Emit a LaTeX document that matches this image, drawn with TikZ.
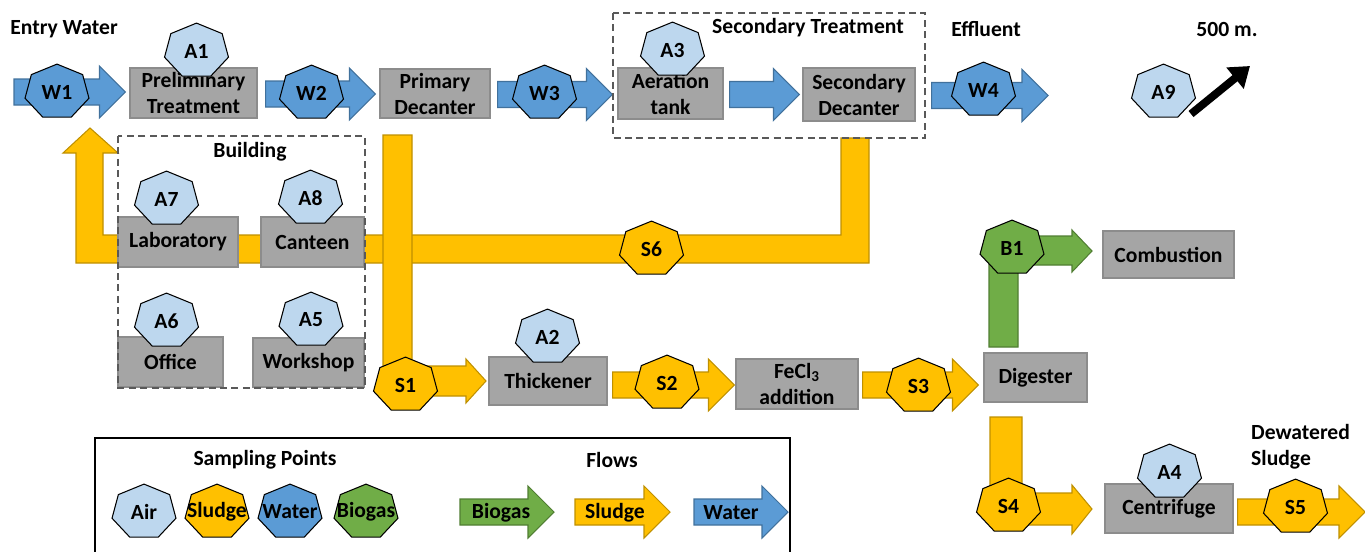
\documentclass[tikz,border=0pt]{standalone}
\usepackage{fontspec}
\setmainfont{Carlito}
\usetikzlibrary{calc, arrows.meta}

\definecolor{water}{HTML}{5B9BD5}
\definecolor{waterline}{HTML}{41719C}
\definecolor{air}{HTML}{BDD7EE}
\definecolor{sludge}{HTML}{FFC000}
\definecolor{sludgeline}{HTML}{BF9000}
\definecolor{biogas}{HTML}{70AD47}
\definecolor{biogasline}{HTML}{507E32}
\definecolor{unitgray}{HTML}{A5A5A5}
\definecolor{unitline}{HTML}{8C8C8C}
\definecolor{framegray}{HTML}{595959}

% block arrow from tail to tip (tip taken at the height of the tail)
\newcommand\flow[3]{%
  \filldraw[#1] ($(#2)+(0,-13)$) -- ($(#3 |- #2)+(-26,-13)$) -- ($(#3 |- #2)+(-26,-26)$)
    -- (#3 |- #2) -- ($(#3 |- #2)+(-26,26)$) -- ($(#3 |- #2)+(-26,13)$) -- ($(#2)+(0,13)$) -- cycle;}

% sampling point: name, position, style, text
\newcommand\samp[4]{%
  \filldraw[#3, shift={(#2)}] (0,-27.9) \foreach \k in {1,...,6}{ -- ({32.8*sin(\k*360/7)},{-27.9*cos(\k*360/7)}) } -- cycle;
  \node[samptext] (#1) at (#2) {#4};}

\begin{document}
\begin{tikzpicture}[
            x = 0.02cm, y = -0.02cm, % one unit = one pixel of the sketch
            font = \bfseries\fontsize{12.3}{14.8}\selectfont,
            wh/.style 2 args = {minimum width=#1*0.02cm, minimum height=#2*0.02cm},
            unit/.style = {rectangle, draw=unitline, fill=unitgray, align=center, inner sep=0pt, line width=0.6pt},
            samptext/.style = {inner sep=0pt},
            waterflow/.style = {fill=water, draw=waterline, line width=0.6pt},
            sludgeflow/.style = {fill=sludge, draw=sludgeline, line width=0.6pt},
            biogasflow/.style = {fill=biogas, draw=biogasline, line width=0.6pt},
            airpt/.style = {fill=air, draw=black, line width=0.6pt},
            waterpt/.style = {fill=water, draw=black, line width=0.6pt},
            sludgept/.style = {fill=sludge, draw=black, line width=0.6pt},
            biogaspt/.style = {fill=biogas, draw=black, line width=0.6pt},
            area/.style = {draw=framegray, dashed, dash pattern=on 4pt off 2.5pt, line width=0.8pt}
        ]
        \useasboundingbox (0,0) rectangle (1365,551);

        % sludge pipes
        \filldraw[sludgeflow] (76,263) -- (76,153) -- (63,153) -- (90,128) -- (118,153) -- (103,153)
            -- (103,235) -- (841,235) -- (841,138) -- (869,138) -- (869,263) -- cycle;
        \filldraw[sludgeflow] (383,135) -- (412,135) -- (412,366) -- (466,366) -- (466,359) -- (486,381)
            -- (466,403) -- (466,396) -- (383,396) -- cycle;
        \filldraw[sludgeflow] (990,417) -- (1022,417) -- (1022,493) -- (1072,493) -- (1072,485) -- (1092,509)
            -- (1072,534) -- (1072,525) -- (990,525) -- cycle;
        \filldraw[biogasflow] (989,347) -- (989,236) -- (1072,236) -- (1072,230) -- (1092,251)
            -- (1072,272) -- (1072,265) -- (1018,265) -- (1018,347) -- cycle;

        % units
        \node[unit, wh={127}{50}] (prelim) at (193.5,93) {Preliminary\\Treatment};
        \node[unit, wh={110}{49}] (primary) at (435,93.5) {Primary\\Decanter};
        \node[unit, wh={105}{51}] (aeration) at (670.5,93.5) {Aeration\\tank};
        \node[unit, wh={112}{53}] (secondary) at (859,94.5) {Secondary\\Decanter};
        \node[unit, wh={120}{50}] (lab) at (178,242) {Laboratory};
        \node[unit, wh={103}{50}] (canteen) at (312.5,242) {Canteen};
        \node[unit, wh={105}{50}] (office) at (170.5,362) {Office};
        \node[unit, wh={111}{49}] (workshop) at (308.5,362.5) {Workshop};
        \node[unit, wh={118}{48}] (thick) at (548,381) {Thickener};
        \node[unit, wh={122}{50}] (fecl) at (797,384) {FeCl\textsubscript{3}\\addition};
        \node[unit, wh={103}{49}] (digester) at (1035.5,377.5) {Digester};
        \node[unit, wh={131}{47}] (combustion) at (1168.5,254.5) {Combustion};
        \node[unit, wh={128}{49}] (centrifuge) at (1169,508.5) {Centrifuge};

        % straight flows
        \coordinate (w1a) at (14,92);
        \coordinate (w1b) at ($(prelim.west)+(-4,0)$);
        \coordinate (w2a) at ($(prelim.east)+(8,1)$);
        \coordinate (w2b) at ($(primary.west)+(-4,0)$);
        \coordinate (w3a) at ($(primary.east)+(7,1)$);
        \coordinate (w3b) at ($(aeration.west)+(-5,0)$);
        \coordinate (ata) at ($(aeration.east)+(6,1)$);
        \coordinate (atb) at ($(secondary.west)+(-3,0)$);
        \coordinate (w4a) at ($(secondary.east)+(16,1)$);
        \coordinate (w4b) at (1048,95);
        \coordinate (s2a) at ($(thick.east)+(5,4)$);
        \coordinate (s2b) at ($(fecl.west)+(-1,0)$);
        \coordinate (s3a) at ($(fecl.east)+(4,1)$);
        \coordinate (s3b) at ($(digester.west)+(-5,0)$);
        \coordinate (s5a) at ($(centrifuge.east)+(4,3.5)$);
        \coordinate (s5b) at (1365,512);
        \flow{waterflow}{w1a}{w1b}
        \flow{waterflow}{w2a}{w2b}
        \flow{waterflow}{w3a}{w3b}
        \flow{waterflow}{ata}{atb}
        \flow{waterflow}{w4a}{w4b}
        \flow{sludgeflow}{s2a}{s2b}
        \flow{sludgeflow}{s3a}{s3b}
        \flow{sludgeflow}{s5a}{s5b}

        % areas
        \draw[area] (613,13) rectangle (925,138);
        \draw[area] (118,136) rectangle (365,388);
        \node (sectext) at (808,28) {Secondary Treatment};
        \node (buildtext) at (250,152) {Building};

        % sampling points
        \samp{W1}{57,92}{waterpt}{W1}
        \samp{A1}{196.5,51}{airpt}{A1}
        \samp{W2}{311.5,93}{waterpt}{W2}
        \samp{W3}{544.5,93}{waterpt}{W3}
        \samp{A3}{672.5,50}{airpt}{A3}
        \samp{W4}{983.5,90}{waterpt}{W4}
        \samp{A9}{1163.5,92}{airpt}{A9}
        \samp{A7}{166.5,199}{airpt}{A7}
        \samp{A8}{310.5,198}{airpt}{A8}
        \samp{A6}{166.5,321}{airpt}{A6}
        \samp{A5}{311,320}{airpt}{A5}
        \samp{S6}{651.5,249}{sludgept}{S6}
        \samp{S1}{405.5,385}{sludgept}{S1}
        \samp{A2}{547.5,337}{airpt}{A2}
        \samp{S2}{667,383}{sludgept}{S2}
        \samp{S3}{918.5,386}{sludgept}{S3}
        \samp{B1}{1012,248}{biogaspt}{B1}
        \samp{A4}{1169.5,472}{airpt}{A4}
        \samp{S4}{1008.5,506}{sludgept}{S4}
        \samp{S5}{1295.5,507}{sludgept}{S5}

        % far point
        \coordinate (far0) at (1191,114);
        \coordinate (far1) at (1250,66);
        \draw[line width=4.5pt, -{Triangle[length=11pt, width=15pt]}] (far0) -- (far1);

        % titles
        \node (entry) at (64,29) {Entry Water};
        \node (effluent) at (986,29) {Effluent};
        \node (dist) at (1227,29) {500 m.};
        \node[align=left, anchor=west] (dewat) at (1245,446.5) {Dewatered\\Sludge};

        % legend
        \draw[line width=0.6pt] (95,560) |- (790,438) -- (790,560);
        \node (lgsamp) at (265,460) {Sampling Points};
        \node (lgflows) at (612,460) {Flows};
        \samp{lgair}{144,512}{airpt}{Air}
        \samp{lgsludge}{217,512}{sludgept}{Sludge}
        \samp{lgwater}{290,512}{waterpt}{Water}
        \samp{lgbiogas}{366,512}{biogaspt}{Biogas}
        \coordinate (lb0) at (460,512);
        \coordinate (lb1) at (554,512);
        \coordinate (ls0) at (575,512);
        \coordinate (ls1) at (670,512);
        \coordinate (lw0) at (694,512);
        \coordinate (lw1) at (788,512);
        \flow{biogasflow}{lb0}{lb1}
        \flow{sludgeflow}{ls0}{ls1}
        \flow{waterflow}{lw0}{lw1}
        \node (lgbiotext) at (501,513) {Biogas};
        \node (lgsludtext) at (615,513) {Sludge};
        \node (lgwattext) at (731,513) {Water};
\end{tikzpicture}
\end{document}
